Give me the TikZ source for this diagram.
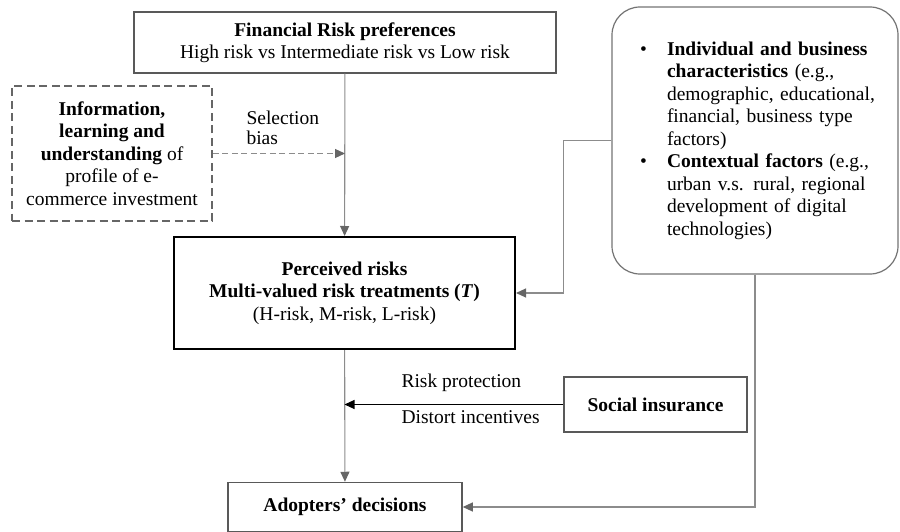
\documentclass[tikz,border=0pt]{standalone}
\usepackage{fontspec}
\setmainfont{Liberation Serif}
\usetikzlibrary{arrows.meta}

\begin{document}
\begin{tikzpicture}[x=1pt, y=1pt,
    every node/.style={font=\fontsize{19.5}{22.5}\selectfont},
    box/.style={draw=black!65, line width=1.5pt, inner sep=0pt, align=center},
    link/.style={draw=black!45, line width=1.1pt, -{Triangle[length=10pt, width=9pt, color=black!60]}}]
        \useasboundingbox (0,0) rectangle (900,-532);

        % Main chain of boxes
        \node[box, minimum width=422, minimum height=61] (fin) at (345,-42.5)
            {\textbf{Financial Risk preferences}\\High risk vs Intermediate risk vs Low risk};
        \node[box, draw=black, line width=2pt, minimum width=341, minimum height=112] (perc) at (344.5,-293)
            {\textbf{Perceived risks}\\\textbf{Multi-valued risk treatments (\textit{T})}\\(H-risk, M-risk, L-risk)};
        \node[box, minimum width=234, minimum height=49] (adopt) at (345,-507)
            {\textbf{Adopters’ decisions}};

        % Side boxes
        \node[box, draw=black!60, dash pattern=on 8pt off 4.5pt, minimum width=200, minimum height=135] (info) at (112,-153.5)
            {\textbf{Information,}\\\textbf{learning and}\\\textbf{understanding} of\\profile of e-\\commerce investment};
        \node[box, minimum width=183, minimum height=55] (social) at (655.5,-404.5)
            {\textbf{Social insurance}};
        \node[draw=black!55, line width=1.2pt, rounded corners=28pt, text width=250, inner xsep=18, inner ysep=0pt,
            minimum height=267, align=left] (chars) at (755,-140.5)
            {\makebox[37pt][l]{\hspace{10pt}\textbullet}\textbf{Individual and business}\\
             \hspace*{37pt}\textbf{characteristics} (e.g.,\\
             \hspace*{37pt}demographic, educational,\\
             \hspace*{37pt}financial, business type\\
             \hspace*{37pt}factors)\\
             \makebox[37pt][l]{\hspace{10pt}\textbullet}\textbf{Contextual factors} (e.g.,\\
             \hspace*{37pt}urban v.s. rural, regional\\
             \hspace*{37pt}development of digital\\
             \hspace*{37pt}technologies)};

        % Arrow labels
        \node[anchor=west, align=left, font=\fontsize{19.5}{19.5}\selectfont] (bias) at (243,-128) {Selection\\bias};
        \node[anchor=west] (prot) at (398,-383) {Risk protection};
        \node[anchor=west] (dist) at (398,-417) {Distort incentives};

        % Connectors
        \coordinate (biasend) at (info.east -| fin.south);
        \coordinate (insend) at (social.west -| perc.south);
        \draw[link] (fin) -- (perc);
        \draw[link, dash pattern=on 6pt off 3.5pt] (info.east) -- (biasend);
        \draw[link] (chars.west) -- ++(-48,0) |- (perc.east);
        \draw[link] (perc) -- (adopt);
        \draw[line width=1.1pt, -{Triangle[length=10pt, width=9pt]}] (social.west) -- (insend);
        \draw[link] (chars.south) |- (adopt.east);
    \end{tikzpicture}
\end{document}
